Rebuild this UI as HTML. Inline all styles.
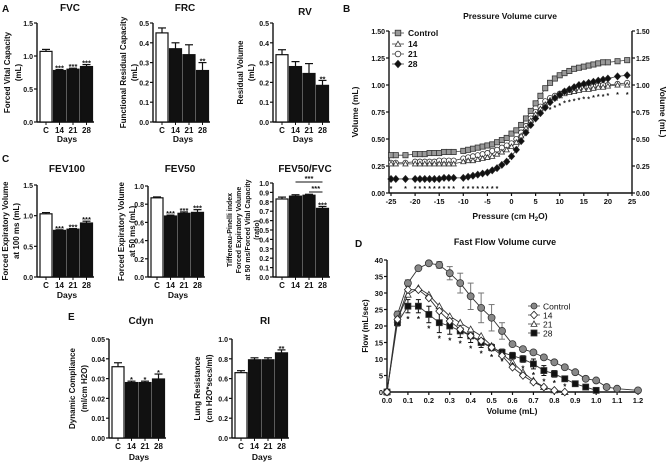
<!DOCTYPE html>
<html><head><meta charset="utf-8"><style>
html,body{margin:0;padding:0;background:#fff}
svg{display:block;font-family:"Liberation Sans",Arial,sans-serif;font-weight:bold}
</style></head><body>
<svg id="fig" width="669" height="465" viewBox="0 0 669 465" xmlns="http://www.w3.org/2000/svg"></svg>
<script>
// ---------- DATA ----------
const days = ["C","14","21","28"];
const fvcVals = [1.07,0.78,0.80,0.84], fvcErr=[0.03,0.015,0.015,0.03], fvcStars=["","***","***","***"], fvcTicks=[0,0.5,1.0,1.5], fvcTickLbl=["0.0","0.5","1.0","1.5"];
const frcVals = [0.45,0.37,0.34,0.26], frcErr=[0.025,0.03,0.05,0.04], frcStars=["","","","**"], frcTicks=[0,0.1,0.2,0.3,0.4,0.5], frcTickLbl=["0.0","0.1","0.2","0.3","0.4","0.5"];
const rvVals = [0.34,0.28,0.245,0.185], rvErr=[0.025,0.025,0.05,0.025], rvStars=["","","","**"];
const fev100Vals=[1.03,0.76,0.78,0.88], fev100Err=[0.02,0.01,0.01,0.03], fev100Stars=["","***","***","***"];
const fev50Vals=[0.87,0.67,0.70,0.71], fev50Err=[0.01,0.01,0.015,0.03], fev50Stars=["","***","***","***"], fev50Ticks=[0,0.2,0.4,0.6,0.8,1.0], fev50TickLbl=["0.0","0.2","0.4","0.6","0.8","1.0"];
const ratioVals=[0.83,0.86,0.87,0.73], ratioErr=[0.02,0.015,0.01,0.02], ratioStars=["","","","***"], ratioTicks=[0,0.1,0.2,0.3,0.4,0.5,0.6,0.7,0.8,0.9,1.0], ratioTickLbl=["0.0","0.1","0.2","0.3","0.4","0.5","0.6","0.7","0.8","0.9","1.0"];
const cdynVals=[0.036,0.028,0.028,0.0298], cdynErr=[0.002,0.0007,0.0007,0.0025], cdynStars=["","*","*","*"], cdynTicks=[0,0.01,0.02,0.03,0.04,0.05], cdynTickLbl=["0.00","0.01","0.02","0.03","0.04","0.05"];
const riVals=[0.66,0.79,0.79,0.86], riErr=[0.02,0.02,0.02,0.03], riStars=["","","","**"];

const pressures=[-25,-24,-22,-20,-19,-18,-17,-16,-15,-14,-13,-12,-10,-9,-8,-7,-6,-5,-4,-3,-2,-1,0,1,2,3,4,5,6,7,8,9,10,11,12,13,14,15,16,17,18,19,20,22,24];
const pvControl=[0.35,0.35,0.35,0.36,0.36,0.36,0.37,0.37,0.37,0.38,0.38,0.38,0.39,0.40,0.41,0.42,0.43,0.44,0.45,0.47,0.49,0.51,0.55,0.58,0.63,0.69,0.76,0.83,0.90,0.97,1.02,1.06,1.09,1.11,1.13,1.15,1.16,1.17,1.18,1.19,1.20,1.21,1.21,1.22,1.23];
const pv14=[0.27,0.27,0.27,0.27,0.27,0.27,0.27,0.27,0.27,0.27,0.27,0.27,0.29,0.30,0.30,0.31,0.32,0.33,0.34,0.36,0.38,0.40,0.43,0.47,0.53,0.60,0.67,0.73,0.78,0.82,0.86,0.88,0.90,0.92,0.93,0.94,0.95,0.96,0.96,0.97,0.98,0.98,0.99,1.00,1.00];
const pv21=[0.28,0.28,0.28,0.29,0.29,0.29,0.29,0.29,0.30,0.30,0.30,0.30,0.32,0.33,0.34,0.35,0.36,0.37,0.39,0.40,0.42,0.44,0.46,0.50,0.56,0.62,0.69,0.75,0.80,0.85,0.88,0.90,0.92,0.94,0.95,0.96,0.97,0.98,0.98,0.99,1.00,1.00,1.00,1.01,1.02];
const pv28=[0.13,0.13,0.13,0.13,0.13,0.13,0.13,0.13,0.13,0.14,0.14,0.14,0.14,0.15,0.16,0.17,0.18,0.19,0.21,0.23,0.26,0.29,0.34,0.40,0.48,0.56,0.63,0.69,0.74,0.79,0.84,0.88,0.91,0.94,0.96,0.98,1.00,1.01,1.02,1.03,1.04,1.05,1.06,1.08,1.09];
const pvStarLow=[-25,-22,-20,-19,-18,-17,-16,-15,-14,-13,-12,-10,-9,-8,-7,-6,-5,-4,-3];
const pvStarHigh=[8,9,10,11,12,13,14,15,16,17,18,19,20,22,24];
const pvTicksX=[-25,-20,-15,-10,-5,0,5,10,15,20,25];
const pvTicksY=[0,0.25,0.5,0.75,1.0,1.25,1.5], pvTickLblY=["0.00","0.25","0.50","0.75","1.00","1.25","1.50"];

const fvX=[0,0.05,0.1,0.15,0.2,0.25,0.3,0.35,0.4,0.45,0.5,0.55,0.6,0.65,0.7,0.75,0.8,0.85,0.9,0.95,1.0,1.05,1.1,1.2];
const fvControl=[0,23.5,33,37.5,39,38.5,36,33,29,25.5,22.5,18.5,14.5,13,12,10.5,9,7.5,6,4,3.5,1.5,1,0.5];
const fvControlErr=[0,1,1,0.5,0.5,1,2,3,4,4.5,4,2.5,0.5,0,0,0,0,0,0,0,0,0,0,0];
const fv14=[0,22,31,31,28.5,24.5,21.5,19,17,15.5,13.5,11,7.5,5,3,1.5,0.5,0];
const fv21=[0,22,29.5,31.5,29.5,26,23,21,19,17,14,11.5,9,6,3.5,1.5,0.5,0];
const fv28=[0,21,26,26,23.5,21,20,18.5,17,15,13.5,12,11,10,8.5,6.5,5.5,4,2.5,1.5,0.5];
const fv28Err=[0,1,2,2,2.5,3,2.5,2,2,1.5,1,1,1,1,1.5,1.5,1,0.5,0,0,0];
const fvStars=[0.1,0.15,0.2,0.25,0.3,0.35,0.4,0.45,0.5,0.55,0.6,0.65,0.7,0.75,0.8,0.85];
const fvTicksX=[0,0.1,0.2,0.3,0.4,0.5,0.6,0.7,0.8,0.9,1.0,1.1,1.2], fvTickLblX=["0.0","0.1","0.2","0.3","0.4","0.5","0.6","0.7","0.8","0.9","1.0","1.1","1.2"];
const fvTicksY=[0,5,10,15,20,25,30,35,40];

// ---------- HELPERS ----------
const NS="http://www.w3.org/2000/svg", svg=document.getElementById('fig');
function mk(tag,attrs,parent){const e=document.createElementNS(NS,tag);for(const k in attrs)e.setAttribute(k,attrs[k]);(parent||svg).appendChild(e);return e;}
function txt(x,y,s,size,anchor,parent,rot){const t=mk('text',{x:x,y:y,'font-size':size,'text-anchor':anchor||'middle',fill:'#111'},parent);if(rot)t.setAttribute('transform','rotate(-90 '+x+' '+y+')');t.textContent=s;return t;}
function line(x1,y1,x2,y2,parent,w,c){return mk('line',{x1:x1,y1:y1,x2:x2,y2:y2,stroke:c||'#111','stroke-width':w||1.2},parent);}

function barChart(name,ax,top,bot,max,vals,err,stars,ticks,tickLbl,title,titleX,titleY,ylab,ylabX,showDays,daysY,ylabSize){
  const g=mk('g',{});
  
  
  const y=v=>bot-(v/max)*(bot-top);
  const band=13.5, bw=12, x0=ax+3;
  line(ax,top,ax,bot,g,1.4); line(ax,bot,ax+57,bot,g,1.4);
  ticks.forEach((t,i)=>{line(ax-3,y(t),ax,y(t),g,1.2);txt(ax-4,y(t)+3,tickLbl[i],7,'end',g);});
  vals.forEach((v,i)=>{
    const bx=x0+i*band;
    const r=mk('rect',{x:bx,y:y(v),width:bw,height:bot-y(v),fill:i==0?'#fff':'#111',stroke:'#111','stroke-width':1.2},g);
    
    
    const ye=y(v+err[i]);
    line(bx+bw/2,y(v),bx+bw/2,ye,g,1.2);
    line(bx+2,ye,bx+bw-2,ye,g,1.2);
    if(stars[i]) txt(bx+bw/2,ye+1,stars[i],7.5,'middle',g);
    line(bx+bw/2,bot,bx+bw/2,bot+3,g,1);
    txt(bx+bw/2,bot+11,days[i],8,'middle',g);
  });
  if(showDays) txt(ax+30,daysY,'Days',8.5,'middle',g);
  txt(titleX,titleY,title,10,'middle',g);
  const mid=(top+bot)/2;
  ylab.forEach((l,i)=>txt(ylabX[i],mid,l,ylabSize||8,'middle',g,true));
  return {g:g,y:y,x0:x0,band:band,bw:bw};
}

// panel letters
[['A',2,12],['C',2,162],['E',68,320],['B',343,12],['D',355,247]].forEach(p=>{const t=txt(p[1],p[2],p[0],10,'start');});

// ---------- PANEL A ----------
barChart('fvc-chart',37,23,122,1.5,fvcVals,fvcErr,fvcStars,fvcTicks,fvcTickLbl,'FVC',70,11,['Forced Vital Capacity','(mL)'],[10,21],true,142);
barChart('frc-chart',153,23,122,0.5,frcVals,frcErr,frcStars,frcTicks,frcTickLbl,'FRC',185,11,['Functional Residual Capacity','(mL)'],[126,137],true,142);
barChart('rv-chart',273,23,122,0.5,rvVals,rvErr,rvStars,frcTicks,frcTickLbl,'RV',305,15,['Residual Volume','(mL)'],[243,254],true,142);

// ---------- PANEL C ----------
barChart('fev100-chart',37,185,277,1.5,fev100Vals,fev100Err,fev100Stars,fvcTicks,fvcTickLbl,'FEV100',67,172,['Forced Expiratory Volume','at 100 ms (mL)'],[8,19],true,298);
barChart('fev50-chart',148,186,277,1.0,fev50Vals,fev50Err,fev50Stars,fev50Ticks,fev50TickLbl,'FEV50',180,172,['Forced Expiratory Volume','at 50 ms (mL)'],[124,135],true,298);
const rc=barChart('fev50-fvc-chart',273,183,277,1.0,ratioVals,ratioErr,ratioStars,ratioTicks,ratioTickLbl,'FEV50/FVC',305,172,['Tiffeneau-Pinelli index','Forced Expiratory Volume','at 50 ms/Forced Vital Capacity','(ratio)'],[232,241,250,259],false,0,7);
line(rc.x0+rc.band+rc.bw/2,182,rc.x0+3*rc.band+rc.bw/2,182,rc.g,1);
txt(rc.x0+2*rc.band+rc.bw/2,181,'***',7.5,'middle',rc.g);
line(rc.x0+2*rc.band+rc.bw/2,192,rc.x0+3*rc.band+rc.bw/2,192,rc.g,1);
txt(rc.x0+2.5*rc.band+rc.bw/2,191,'***',7.5,'middle',rc.g);

// ---------- PANEL E ----------
barChart('cdyn-chart',109,339,438,0.05,cdynVals,cdynErr,cdynStars,cdynTicks,cdynTickLbl,'Cdyn',141,324,['Dynamic Compliance','(ml/cm H2O)'],[75,87],true,460);
barChart('ri-chart',232,339,438,1.0,riVals,riErr,riStars,fev50Ticks,fev50TickLbl,'RI',265,324,['Lung Resistance','(cm H2O*secs/ml)'],[200,212],true,460);

// ---------- MARKERS ----------
function marker(g,shape,x,y,fill,s){
  s=s||3;let e;
  if(shape=='square') e=mk('rect',{x:x-s,y:y-s,width:2*s,height:2*s,fill:fill,stroke:'#333','stroke-width':0.8},g);
  else if(shape=='circle') e=mk('circle',{cx:x,cy:y,r:s,fill:fill,stroke:'#333','stroke-width':0.8},g);
  else if(shape=='triangle') e=mk('polygon',{points:`${x},${y-s} ${x+s},${y+s*0.8} ${x-s},${y+s*0.8}`,fill:fill,stroke:'#333','stroke-width':0.8},g);
  else e=mk('polygon',{points:`${x},${y-s-0.8} ${x+s+0.5},${y} ${x},${y+s+0.8} ${x-s-0.5},${y}`,fill:fill,stroke:'#222','stroke-width':0.8},g);
  return e;
}

// ---------- PANEL B ----------
(function(){
  const g=mk('g',{});
  
  
  const L=391,R=632,T=31,B=193;
  const x=p=>L+(p+25)/50*(R-L), y=v=>B-v/1.5*(B-T);
  line(L-2,T,L-2,B,g,1.4); line(R,T,R,B,g,1.4); line(L-2,B,R,B,g,1.4);
  pvTicksY.forEach((t,i)=>{line(L-5,y(t),L-2,y(t),g);txt(L-6,y(t)+3,pvTickLblY[i],7,'end',g);line(R,y(t),R+3,y(t),g);txt(R+4,y(t)+3,pvTickLblY[i],7,'start',g);});
  pvTicksX.forEach(t=>{line(x(t),B,x(t),B+3,g);txt(x(t),B+11,String(t),7.5,'middle',g);});
  txt(510,19,'Pressure Volume curve',8.5,'middle',g);
  const xl=txt(510,219,'Pressure (cm H',8.5,'middle',g);
  const sub=mk('tspan',{'font-size':6,dy:2},xl);sub.textContent='2';
  const t2=mk('tspan',{dy:-2},xl);t2.textContent='O)';
  txt(358,112,'Volume (mL)',8.5,'middle',g,true);
  const rl=txt(660,112,'Volume (mL)',8.5,'middle',g);rl.setAttribute('transform','rotate(90 660 112)');
  const series=[['pv-control',pvControl,'square','#999'],['pv-day21',pv21,'circle','#fff'],['pv-day14',pv14,'triangle','#fff'],['pv-day28',pv28,'diamond','#111']];
  series.forEach(s=>{
    const sg=mk('g',{},g);
    
    
    mk('polyline',{points:pressures.map((p,i)=>x(p)+','+y(s[1][i])).join(' '),fill:'none',stroke:'#444','stroke-width':0.8},sg);
    pressures.forEach((p,i)=>marker(sg,s[2],x(p),y(s[1][i]),s[3],2.6));
  });
  pvStarLow.forEach(p=>txt(x(p),y(0)-2,'*',7,'middle',g));
  pvStarHigh.forEach(p=>txt(x(p),y(pv14[pressures.indexOf(p)])+12,'*',7,'middle',g));
  const lg=[['Control','square','#999'],['14','triangle','#fff'],['21','circle','#fff'],['28','diamond','#111']];
  lg.forEach((l,i)=>{const ly=[33,44,54,64][i];line(L+1,ly,L+13,ly,g,0.8,'#444');marker(g,l[1],L+7,ly,l[2],2.8);txt(L+17,ly+3,l[0],8.5,'start',g);});
})();

// ---------- PANEL D ----------
(function(){
  const g=mk('g',{});
  
  
  const L=387,R=638,T=260,B=392;
  const x=v=>L+v/1.2*(R-L), y=f=>B-f/40*(B-T);
  line(L,T,L,B,g,1.4); line(L,B,R,B,g,1.4);
  fvTicksY.forEach(t=>{line(L-3,y(t),L,y(t),g);txt(L-4,y(t)+3,String(t),7.5,'end',g);});
  fvTicksX.forEach((t,i)=>{line(x(t),B,x(t),B+3,g);txt(x(t),B+11,fvTickLblX[i],7.5,'middle',g);});
  txt(505,245,'Fast Flow Volume curve',9,'middle',g);
  txt(512,414,'Volume (mL)',8.5,'middle',g);
  txt(368,326,'Flow (mL/sec)',8,'middle',g,true);
  fvControl.forEach((v,i)=>{if(fvControlErr[i]>0){const e=fvControlErr[i];line(x(fvX[i]),y(v-e),x(fvX[i]),y(v+e),g,1,'#777');line(x(fvX[i])-3,y(v+e),x(fvX[i])+3,y(v+e),g,1,'#777');line(x(fvX[i])-3,y(v-e),x(fvX[i])+3,y(v-e),g,1,'#777');}});
  fv28.forEach((v,i)=>{if(fv28Err[i]>0){const e=fv28Err[i];line(x(fvX[i]),y(v-e),x(fvX[i]),y(v+e),g,1);line(x(fvX[i])-2.5,y(v+e),x(fvX[i])+2.5,y(v+e),g,1);line(x(fvX[i])-2.5,y(v-e),x(fvX[i])+2.5,y(v-e),g,1);}});
  const series=[['fv-control',fvControl,'circle','#888',3.5],['fv-day28',fv28,'square','#111',3],['fv-day21',fv21,'triangle','#fff',3.2],['fv-day14',fv14,'diamond','#fff',3]];
  series.forEach(s=>{
    const sg=mk('g',{},g);
    
    
    mk('polyline',{points:s[1].map((v,i)=>x(fvX[i])+','+y(v)).join(' '),fill:'none',stroke:'#333','stroke-width':0.9},sg);
    s[1].forEach((v,i)=>marker(sg,s[2],x(fvX[i]),y(v),s[3],s[4]));
  });
  fvStars.forEach(v=>{const i=fvX.indexOf(v);txt(x(v),y(fv28[i]-(fv28Err[i]||0))+9,'*',8,'middle',g);});
  const lg=[['Control','circle','#888'],['14','diamond','#fff'],['21','triangle','#fff'],['28','square','#111']];
  lg.forEach((l,i)=>{const ly=306+i*9;line(528,ly,540,ly,g,0.8,'#444');marker(g,l[1],534,ly,l[2],3);txt(543,ly+3.5,l[0],8.5,'start',g).setAttribute('font-weight','normal');});
})();
</script>
</body></html>
